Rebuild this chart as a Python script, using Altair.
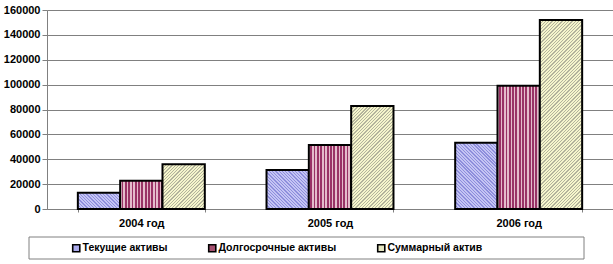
import altair as alt
import pandas as pd

years = ["2004 год", "2005 год", "2006 год"]
series = ["Текущие активы", "Долгосрочные активы", "Суммарный актив"]
current = [13100, 31300, 53300]
longterm = [22700, 51400, 99100]
total = [35900, 82800, 152000]
y_ticks = [0, 20000, 40000, 60000, 80000, 100000, 120000, 140000, 160000]

rows = []
for i, yr in enumerate(years):
    for s, vals in zip(series, [current, longterm, total]):
        rows.append({"year": yr, "series": s, "value": vals[i]})
df = pd.DataFrame(rows)

W, H = 566, 199
YMAX = 160000
BAR_W = (W / 3) * (1 - 0.327) / 3
FONT = "Liberation Sans"

# stripe styles per series: (kind, base colour, stripe colour)
styles = {
    "Текущие активы": ("back", "#c4c4f4", "#8e8edc"),
    "Долгосрочные активы": ("vert", "#993366", "#e4bccb"),
    "Суммарный актив": ("fwd", "#f6f6cc", "#b4b49c"),
}


def stripe_stops(n_periods, base, stripe, frac=0.42):
    stops = []
    step = 1.0 / n_periods
    for j in range(int(n_periods) + 1):
        a = j * step
        b = min(a + step * frac, 1.0)
        c = min(a + step, 1.0)
        if a >= 1.0:
            break
        stops += [
            {"offset": round(a, 5), "color": stripe},
            {"offset": round(b, 5), "color": stripe},
            {"offset": round(b, 5), "color": base},
            {"offset": round(c, 5), "color": base},
        ]
    return stops


def gradient_for(s, v):
    kind, base, stripe = styles[s]
    w = BAR_W
    h = max(v / YMAX * H, 1)
    p = 3.3
    if kind == "vert":
        return {"gradient": "linear", "x1": 0, "y1": 0, "x2": 1, "y2": 0,
                "stops": stripe_stops(w / p, base, stripe, 0.45)}
    k = (w + h) / (w * w + h * h)
    if kind == "back":
        g = {"gradient": "linear", "x1": 0, "y1": 1, "x2": k * w, "y2": 1 - k * h}
    else:
        g = {"gradient": "linear", "x1": 0, "y1": 0, "x2": k * w, "y2": k * h}
    g["stops"] = stripe_stops((w + h) / p, base, stripe, 0.4)
    return g


conds = []
for r in rows:
    conds.append({
        "test": f"datum.year === '{r['year']}' && datum.series === '{r['series']}'",
        "value": gradient_for(r["series"], r["value"]),
    })

x_enc = alt.X("year:N", sort=years, title=None,
              scale=alt.Scale(paddingInner=0.327, paddingOuter=0.1635),
              axis=alt.Axis(labelAngle=0, labelFont=FONT, labelFontSize=11,
                            labelFontWeight="bold", labelColor="black",
                            domainColor="#808080", tickColor="#808080",
                            tickSize=3, tickBand="extent", labelPadding=5))
y_enc = alt.Y("value:Q", title=None,
              scale=alt.Scale(domain=[0, YMAX], nice=False),
              axis=alt.Axis(values=y_ticks, format="d", labelFont=FONT,
                            labelFontSize=11, labelFontWeight="bold",
                            labelColor="black", domainColor="#808080",
                            tickColor="#808080", tickSize=5, labelPadding=2,
                            gridColor="#808080", gridWidth=1, grid=True))

bars = alt.Chart(df).mark_bar(stroke="black", strokeWidth=2, strokeJoin="miter").encode(
    x=x_enc,
    xOffset=alt.XOffset("series:N", sort=series, scale=alt.Scale(paddingInner=0, paddingOuter=0)),
    y=y_enc,
    fill=alt.value("#cccccc", condition=conds),
)

legend_layer = alt.Chart(df).mark_square(opacity=0).encode(
    color=alt.Color("series:N", sort=series,
                    scale=alt.Scale(domain=series, range=["#aaaaec", "#a5506f", "#e4e4c0"]),
                    legend=alt.Legend(title=None, orient="none", legendX=24, legendY=233,
                                      direction="horizontal", columns=3,
                                      columnPadding=37, symbolType="square",
                                      symbolSize=50, symbolOpacity=1,
                                      symbolStrokeColor="black", symbolStrokeWidth=1.6,
                                      labelFont=FONT, labelFontSize=10.5,
                                      labelFontWeight="bold", labelColor="black",
                                      labelOffset=1, labelLimit=300)),
)

box = alt.Chart(pd.DataFrame({"a": [0]})).mark_rect(
    fill="transparent", stroke="#808080", strokeWidth=1
).encode(x=alt.value(-18), x2=alt.value(537), y=alt.value(227), y2=alt.value(249))

chart = alt.layer(bars, legend_layer, box).properties(
    width=W, height=H,
    autosize=alt.AutoSizeParams(type="none"),
    padding={"left": 47, "top": 10, "right": 0, "bottom": 55},
).configure_view(stroke=None).configure(background="white")

chart.save("out.html", embed_options={"renderer": "svg", "actions": False})
